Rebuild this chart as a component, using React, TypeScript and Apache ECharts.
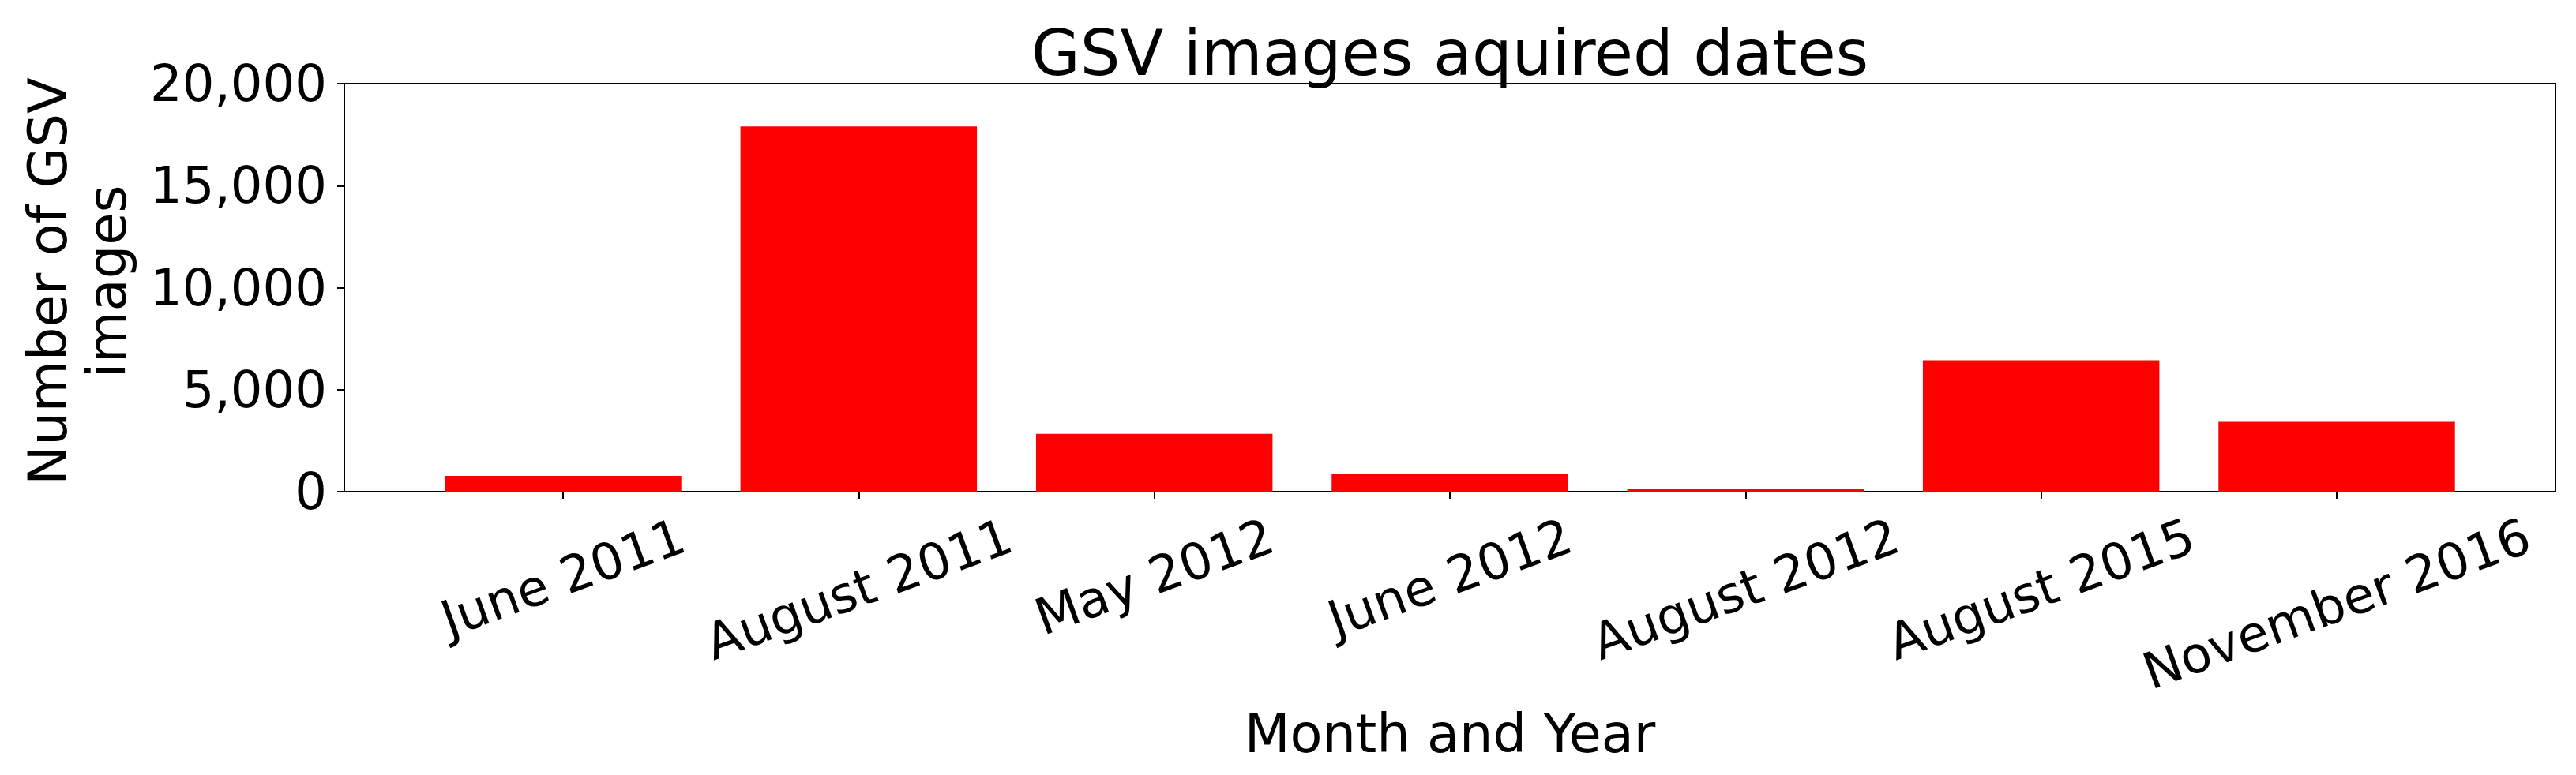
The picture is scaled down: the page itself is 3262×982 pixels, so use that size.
import React, { useEffect, useRef } from "react";
import * as echarts from "echarts";

const categories = [
  "June 2011",
  "August 2011",
  "May 2012",
  "June 2012",
  "August 2012",
  "August 2015",
  "November 2016",
];
const imageCounts = [770, 17900, 2830, 870, 125, 6440, 3420];
const yTicks = [0, 5000, 10000, 15000, 20000];
const titleText = "GSV images aquired dates";
const xAxisTitle = "Month and Year";
const yAxisTitle = "Number of GSV\nimages";

const FONT = '"DejaVu Sans", "Noto Sans", sans-serif';

function measure(text: string, size: number): number {
  const ctx = document.createElement("canvas").getContext("2d");
  if (!ctx) return text.length * size * 0.6;
  ctx.font = `${size}px ${FONT}`;
  return ctx.measureText(text).width;
}

export default function App() {
  const ref = useRef<HTMLDivElement>(null);

  useEffect(() => {
    document.body.style.margin = "0";
    if (!ref.current) return;
    const chart = echarts.init(ref.current, null, { renderer: "svg" });

    const plotLeft = 436;
    const plotRight = 3236;
    const plotTop = 106;
    const plotBottom = 623;
    const W = 3262;
    const H = 982;
    const xMin = -0.74;
    const xMax = categories.length - 1 + 0.74;
    const unitPx = (plotRight - plotLeft) / (xMax - xMin);

    const tickFont = 64;
    const rot = (20 * Math.PI) / 180;
    const labelMargin = 10;
    const rich: Record<string, any> = {};
    categories.forEach((c, i) => {
      const w = measure(c, tickFont);
      const d = 18.7 + (w * Math.sin(rot) + 75 * Math.cos(rot)) / 2 - labelMargin;
      rich["l" + i] = {
        fontSize: tickFont,
        fontFamily: FONT,
        color: "#000",
        padding: [2 * d * Math.cos(rot), 2 * d * Math.sin(rot), 0, 0],
      };
    });

    const titleSize = 80;
    const titleW = measure(titleText, titleSize);
    const plotCenter = (plotLeft + plotRight) / 2;

    chart.setOption({
      animation: false,
      backgroundColor: "#fff",
      textStyle: { fontFamily: FONT, color: "#000" },
      title: {
        text: titleText,
        left: plotCenter - titleW / 2,
        top: 27,
        padding: 0,
        textStyle: {
          fontSize: titleSize,
          fontWeight: "normal",
          fontFamily: FONT,
          color: "#000",
        },
      },
      grid: {
        left: plotLeft,
        right: W - plotRight,
        top: plotTop,
        bottom: H - plotBottom,
        show: true,
        borderColor: "#000",
        borderWidth: 2,
        backgroundColor: "#fff",
        containLabel: false,
      },
      xAxis: {
        type: "value",
        min: xMin,
        max: xMax,
        splitLine: { show: false },
        axisLine: { show: false, onZero: false },
        axisTick: {
          show: true,
          length: 9,
          customValues: categories.map((_, i) => i),
          lineStyle: { color: "#000", width: 2 },
        },
        axisLabel: {
          show: true,
          customValues: categories.map((_, i) => i),
          rotate: 20,
          align: "center",
          verticalAlign: "middle",
          margin: labelMargin,
          hideOverlap: false,
          formatter: (v: number) => {
            const i = Math.round(v);
            return `{l${i}|${categories[i] ?? ""}}`;
          },
          rich,
        },
        name: xAxisTitle,
        nameLocation: "middle",
        nameGap: 273,
        nameTextStyle: { fontSize: 67, fontFamily: FONT, color: "#000" },
      },
      yAxis: {
        type: "value",
        min: yTicks[0],
        max: yTicks[yTicks.length - 1],
        interval: yTicks[1] - yTicks[0],
        splitLine: { show: false },
        axisLine: { show: false, onZero: false },
        axisTick: {
          show: true,
          length: 9,
          lineStyle: { color: "#000", width: 2 },
        },
        axisLabel: {
          fontSize: tickFont,
          fontFamily: FONT,
          color: "#000",
          margin: 22,
          formatter: (v: number) => v.toLocaleString("en-US"),
        },
        name: yAxisTitle,
        nameLocation: "middle",
        nameRotate: 90,
        nameGap: 263,
        nameTextStyle: {
          fontSize: 67,
          lineHeight: 75,
          fontFamily: FONT,
          color: "#000",
          padding: [0, 0, 0, 16],
        },
      },
      series: [
        {
          type: "bar",
          data: imageCounts.map((v, i) => [i, v]),
          barWidth: unitPx * 0.8,
          itemStyle: { color: "#ff0000" },
        },
      ],
    });

    return () => {
      chart.dispose();
    };
  }, []);

  return <div ref={ref} style={{ width: 3262, height: 982 }} />;
}
